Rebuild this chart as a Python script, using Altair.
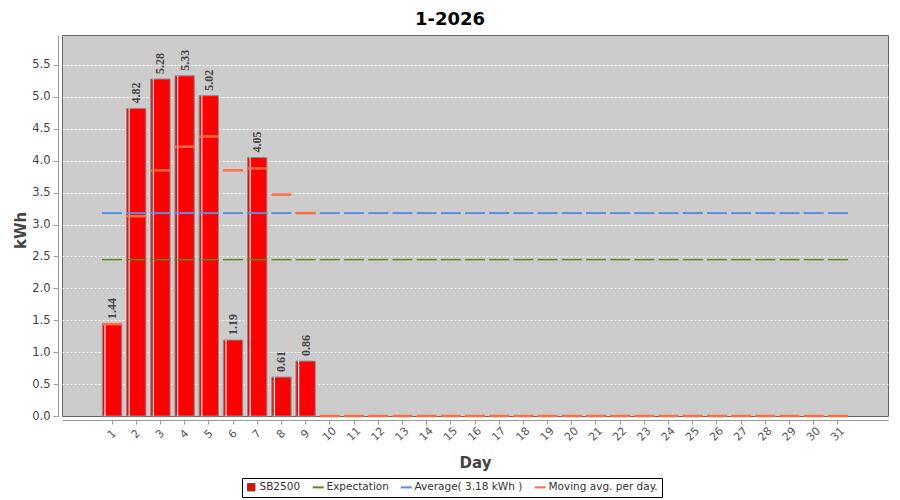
import altair as alt
import pandas as pd

# ---- data ----
days = list(range(1, 32))
sb2500 = [1.44, 4.82, 5.28, 5.33, 5.02, 1.19, 4.05, 0.61, 0.86,
          0, 0, 0, 0, 0, 0, 0, 0, 0, 0, 0, 0, 0, 0, 0, 0, 0, 0, 0, 0, 0, 0]
moving_avg = [1.44, 3.13, 3.85, 4.22, 4.38, 3.85, 3.88, 3.47, 3.18,
              0, 0, 0, 0, 0, 0, 0, 0, 0, 0, 0, 0, 0, 0, 0, 0, 0, 0, 0, 0, 0, 0]
average_value = 3.18
expectation_value = 2.45
y_ticks = [0.0, 0.5, 1.0, 1.5, 2.0, 2.5, 3.0, 3.5, 4.0, 4.5, 5.0, 5.5]
# empty category slots at either end of the day axis (as in the reference)
x_domain = [0] + days + [32]

series_names = ["SB2500", "Expectation", "Average( 3.18 kWh )", "Moving avg. per day."]
series_colors = ["#ff0000", "#5a8a1a", "#5b8fe0", "#ff6e40"]

bars_df = pd.DataFrame({"day": days, "value": sb2500, "series": series_names[0]})
exp_df = pd.DataFrame({"day": days, "value": [expectation_value] * len(days), "series": series_names[1]})
avg_df = pd.DataFrame({"day": days, "value": [average_value] * len(days), "series": series_names[2]})
mov_df = pd.DataFrame({"day": days, "value": moving_avg, "series": series_names[3]})

FONT = "DejaVu Sans"

x_enc = alt.X(
    "day:O",
    scale=alt.Scale(domain=x_domain, paddingInner=0.2, paddingOuter=0.667),
    title="Day",
    axis=alt.Axis(
        values=days,
        labelAngle=-45, labelAlign="center", labelBaseline="middle",
        labelPadding=10, tickSize=4, offset=4,
        domainColor="#9a9a9a", tickColor="#9a9a9a",
        labelColor="#555555", labelFont=FONT, labelFontSize=11,
        titleFont=FONT, titleFontSize=15, titleFontWeight="bold", titleColor="#444444",
        titleX=413, titleY=42, titleBaseline="middle", titleAlign="center",
        grid=False,
    ),
)

y_enc = alt.Y(
    "value:Q",
    scale=alt.Scale(domain=[0, 5.97], nice=False, zero=True),
    title="kWh",
    axis=alt.Axis(
        values=y_ticks, format=".1f", offset=4, tickSize=5, labelPadding=3,
        domainColor="#9a9a9a", tickColor="#9a9a9a",
        labelColor="#444444", labelFont=FONT, labelFontSize=11.5,
        titleFont=FONT, titleFontSize=15, titleFontWeight="bold", titleColor="#444444",
        titleX=-38, titleY=195, titleAngle=270, titleBaseline="middle", titleAlign="center",
        grid=True, gridColor="#ffffff", gridDash=[2, 2], gridWidth=1,
        gridOpacity={"condition": {"test": "datum.value === 0", "value": 0}, "value": 0.9},
    ),
)

legend = alt.Legend(
    title=None, orient="none", legendX=180, legendY=443,
    direction="horizontal", columns=4, columnPadding=7,
    strokeColor="#000000", fillColor="#ffffff", padding=4,
    labelFont=FONT, labelFontSize=10.5, labelColor="#333333", labelOffset=3,
    symbolType=alt.ExprRef("datum.value === 'SB2500' ? 'square' : 'stroke'"),
    symbolSize=alt.ExprRef("datum.value === 'SB2500' ? 56 : 121"),
    symbolStrokeWidth=alt.ExprRef("datum.value === 'SB2500' ? 1 : 2"),
    symbolStrokeColor=alt.ExprRef("datum.value === 'SB2500' ? '#555555' : scale('color', datum.value)"),
    symbolOpacity=1,
)

color_scale = alt.Scale(domain=series_names, range=series_colors)

bars = alt.Chart(bars_df).transform_filter("datum.value > 0").mark_bar(
    stroke="#8c8c8c", strokeWidth=1, opacity=1
).encode(
    x=x_enc, y=y_enc,
    color=alt.Color("series:N", scale=color_scale, legend=legend),
)

highlight = alt.Chart(bars_df).transform_filter("datum.value > 0").mark_rule(
    color="#ffffff", strokeWidth=1.2, xOffset=-7, opacity=0.95
).encode(x=x_enc, y=y_enc, y2=alt.datum(0))

exp_ticks = alt.Chart(exp_df).mark_tick(thickness=1.5, size=20, opacity=1).encode(
    x=x_enc, y=y_enc, color=alt.Color("series:N", scale=color_scale),
)
avg_ticks = alt.Chart(avg_df).mark_tick(thickness=2, size=20, opacity=1).encode(
    x=x_enc, y=y_enc, color=alt.Color("series:N", scale=color_scale),
)
mov_ticks = alt.Chart(mov_df).mark_tick(thickness=2.5, size=20, opacity=1).encode(
    x=x_enc, y=y_enc, color=alt.Color("series:N", scale=color_scale),
)

labels = alt.Chart(bars_df).transform_filter("datum.value > 0").mark_text(
    angle=270, align="left", baseline="middle", yOffset=-5,
    font="Liberation Serif", fontWeight="bold", fontSize=12, color="#444444",
).encode(x=x_enc, y=y_enc, text=alt.Text("value:Q", format=".2f"))

chart = alt.layer(bars, highlight, exp_ticks, avg_ticks, mov_ticks, labels).properties(
    width=826, height=381,
    title=alt.TitleParams("1-2026", font=FONT, fontSize=18, fontWeight="bold",
                          color="#000000", anchor="middle", dx=-25, offset=6),
    autosize=alt.AutoSizeParams(type="none"),
    padding={"left": 54, "top": 27, "right": 4, "bottom": 83},
    background="#ffffff",
).configure_view(
    fill="#cccccc", stroke="#666666", strokeWidth=1,
)

chart.save("out.html", embed_options={"renderer": "svg", "actions": False})
